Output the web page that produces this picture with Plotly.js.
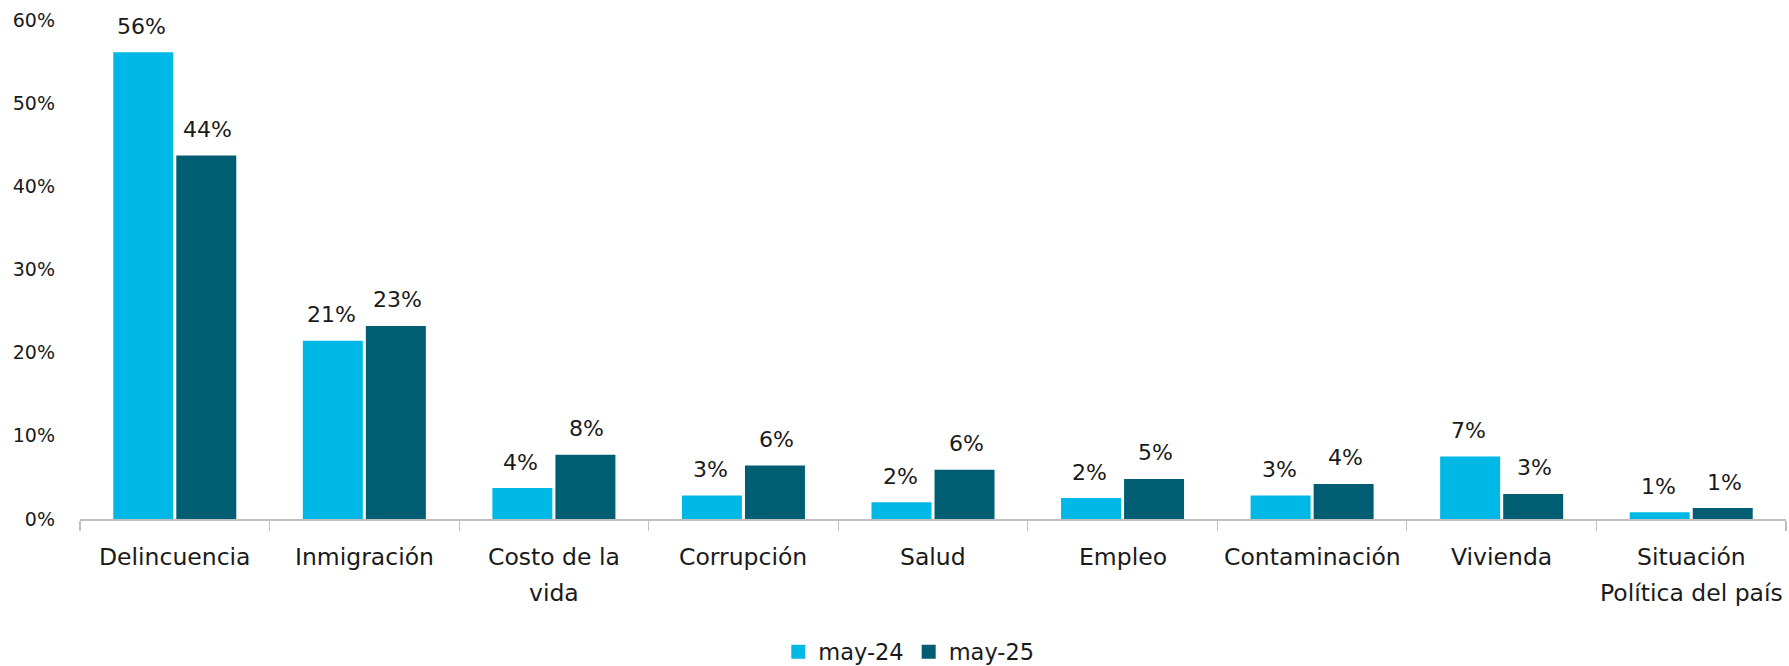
<!DOCTYPE html>
<html>
<head>
<meta charset="utf-8">
<script src="https://cdn.plot.ly/plotly-3.0.1.min.js"></script>
<style>html,body{margin:0;padding:0;background:#fff;}#chart{width:1789px;height:666px;}</style>
</head>
<body>
<div id="chart"></div>
<script>
const categories = ["Delincuencia", "Inmigración", "Costo de la<br>vida", "Corrupción", "Salud", "Empleo", "Contaminación", "Vivienda", "Situación<br>Política del país"];
const seriesNames = ["may-24", "may-25"];
const may24 = [0.560, 0.213, 0.036, 0.027, 0.019, 0.024, 0.027, 0.074, 0.007];
const may25 = [0.436, 0.231, 0.076, 0.063, 0.058, 0.047, 0.041, 0.029, 0.012];
const colors = ["#00B8E6", "#005D72"];
const yTicks = [0, 0.1, 0.2, 0.3, 0.4, 0.5, 0.6];

const FONT = "DejaVu Sans, sans-serif";
const TXT = "#1a1a1a";

const traces = [may24, may25].map((vals, i) => ({
  type: "bar",
  name: seriesNames[i],
  x: categories,
  y: vals,
  marker: {color: colors[i], line: {color: colors[i], width: 2}},
  hoverinfo: "skip"
}));

const annotations = [];
[may24, may25].forEach((vals, i) => {
  vals.forEach((v, j) => {
    annotations.push({
      x: categories[j], y: v, xref: "x", yref: "y",
      text: Math.round(v * 100) + "%",
      showarrow: false, xanchor: "center", yanchor: "middle",
      xshift: i === 0 ? -33 : 33, yshift: 27,
      font: {family: FONT, size: 22, color: TXT}
    });
  });
});
categories.forEach((c) => {
  c.split("<br>").forEach((line, k) => {
    annotations.push({
      x: c, y: 0, xref: "x", yref: "paper",
      text: line, showarrow: false, xanchor: "center", yanchor: "middle",
      yshift: -38 - 36 * k,
      font: {family: FONT, size: 23.5, color: TXT}
    });
  });
});

const layout = {
  width: 1789, height: 666,
  margin: {l: 80, r: 3, t: 20, b: 147},
  paper_bgcolor: "#ffffff", plot_bgcolor: "#ffffff",
  font: {family: FONT, color: TXT},
  barmode: "group", bargap: 0.335, bargroupgap: 0.08,
  showlegend: true,
  legend: {
    orientation: "h", xref: "container", x: 0.508, xanchor: "center",
    yref: "container", y: 0.021, yanchor: "middle",
    font: {family: FONT, size: 22.5, color: TXT},
    itemwidth: 30
  },
  xaxis: {
    type: "category", showticklabels: false,
    ticks: "outside", tickson: "boundaries", ticklen: 10, tickcolor: "#bfbfbf", tickwidth: 1.2,
    showline: true, linecolor: "#bfbfbf", linewidth: 1.5,
    showgrid: false, zeroline: false, fixedrange: true
  },
  yaxis: {
    range: [0, 0.6], tickvals: yTicks, tickformat: ".0%",
    showgrid: false, zeroline: false, showline: false, ticks: "",
    ticklabelstandoff: 24,
    tickfont: {family: FONT, size: 19, color: TXT}, fixedrange: true
  },
  annotations: annotations
};

Plotly.newPlot("chart", traces, layout, {displayModeBar: false, staticPlot: true});
</script>
</body>
</html>
